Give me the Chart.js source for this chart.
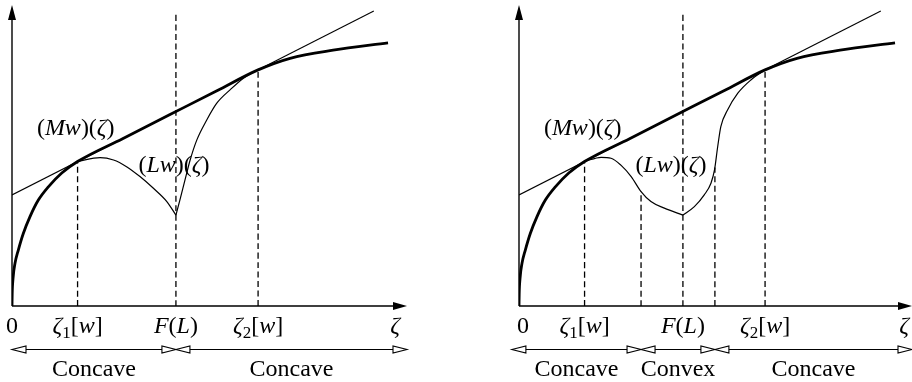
<!DOCTYPE html>
<html>
<head>
<meta charset="utf-8">
<script src="https://cdn.jsdelivr.net/npm/chart.js@4"></script>
<style>
  body { margin: 0; background: #fff; }
  #wrap { position: relative; width: 912px; height: 382px; overflow: hidden; }
  canvas { position: absolute; top: 0; }
</style>
</head>
<body>
<div id="wrap">
  <canvas id="left" width="456" height="382" style="left:0"></canvas>
  <canvas id="right" width="456" height="382" style="left:456px"></canvas>
</div>
<script>
// marked points on the ζ axis
const zeta1 = 16.6, fL = 41.5, zeta2 = 62.3;

// thick curve (Mw)(ζ), shared by both panels
const mwCurve = [[0, 0], [0.05, 4.0], [0.3, 9.7], [0.76, 14.2], [1.6, 18.6], [2.86, 24.1],
  [4.56, 29.7], [6.67, 35.2], [9.2, 39.6], [12.6, 44.2], [16.6, 48.0], [28, 55.6],
  [40, 63.6], [52, 71.6], [62.3, 78.45], [70.4, 82.3], [81.3, 85.0], [95.2, 87.4]];

// thin tangent line
const tangent = [[0, 36.9], [91.6, 98.0]];

// (Lw)(ζ), left panel: before and after the kink at F(L)
const lwLeftA = [[16.6, 48.0], [22.3, 49.3], [25.7, 48.5], [29.0, 46.3], [32.4, 43.0],
  [35.8, 39.1], [39.2, 34.7], [41.5, 30.2]];
const lwLeftB = [[41.5, 30.2], [42.5, 35.2], [43.8, 41.9], [45.1, 48.5], [46.8, 55.2],
  [49.3, 61.8], [51.8, 67.3], [55.2, 71.8], [58.6, 75.7], [62.3, 78.45]];

// (Lw)(ζ), right panel
const lwRightA = [[16.6, 48.0], [20.8, 49.4], [23.3, 49.1], [25.8, 46.8], [28.4, 43.0],
  [30.9, 38.0], [33.4, 34.7], [36.8, 32.5], [41.5, 30.2]];
const lwRightB = [[41.5, 30.2], [44.4, 33.0], [46.9, 36.9], [48.6, 40.8], [49.5, 45.2],
  [50.3, 52.9], [51.1, 59.6], [52.8, 65.1], [55.4, 70.7], [58.7, 75.1], [62.3, 78.45]];

// dashed verticals [ζ, height]
const dashLeft = [[zeta1, 48.0], [fL, 97.3], [zeta2, 78.45]];
const dashRight = [[zeta1, 48.0], [30.9, 38.0], [fL, 97.3], [49.6, 46.0], [zeta2, 78.45]];

// tick labels: parts are [text, style] with i = italic, r = roman, s = subscript
const tickLabels = [
  [['0', 'r']],
  [['ζ', 'i'], ['1', 's'], ['[', 'r'], ['w', 'i'], [']', 'r']],
  [['F', 'i'], ['(', 'r'], ['L', 'i'], [')', 'r']],
  [['ζ', 'i'], ['2', 's'], ['[', 'r'], ['w', 'i'], [']', 'r']],
  [['ζ', 'i']]
];
const tickPosLeft = [0, zeta1, fL, zeta2, 97];
const tickPosRight = [1, zeta1, fL, zeta2, 97.5];

// curve labels [x, y] of the label start
const mwLabel = [['(', 'r'], ['Mw', 'i'], [')(', 'r'], ['ζ', 'i'], [')', 'r']];
const lwLabel = [['(', 'r'], ['Lw', 'i'], [')(', 'r'], ['ζ', 'i'], [')', 'r']];
const mwLabelPos = [6.3, 56.8];
const lwLabelPosLeft = [32.0, 44.6];
const lwLabelPosRight = [29.5, 44.6];

// concavity regions [from, to, name]
const regionsLeft = [[0, fL, 'Concave'], [fL, 100, 'Concave']];
const regionsRight = [[-1.8, 30.9, 'Concave'], [30.9, 49.6, 'Convex'], [49.6, 99.5, 'Concave']];

const SERIF = '"Liberation Serif", "DejaVu Serif", serif';
const fonts = { i: 'italic 24px ' + SERIF, r: '24px ' + SERIF, s: '17px ' + SERIF };

function richWidth(ctx, parts) {
  let w = 0;
  parts.forEach(([t, s]) => { ctx.font = fonts[s]; w += ctx.measureText(t).width; });
  return w;
}
function drawRich(ctx, parts, x, y, align) {
  let cx = align === 'center' ? x - richWidth(ctx, parts) / 2 : x;
  ctx.textBaseline = 'alphabetic';
  ctx.textAlign = 'left';
  parts.forEach(([t, s]) => {
    ctx.font = fonts[s];
    ctx.fillText(t, cx, s === 's' ? y + 5 : y);
    cx += ctx.measureText(t).width;
  });
}
function head(ctx, tx, ty, dx, dy, len, half, filled) {
  const bx = tx - dx * len, by = ty - dy * len;
  ctx.beginPath();
  ctx.moveTo(tx, ty);
  ctx.lineTo(bx - dy * half, by + dx * half);
  ctx.lineTo(bx + dy * half, by - dx * half);
  ctx.closePath();
  if (filled) { ctx.fillStyle = '#000'; ctx.fill(); }
  else { ctx.fillStyle = '#fff'; ctx.fill(); ctx.stroke(); }
}

const sketch = {
  id: 'sketch',
  afterDatasetsDraw(chart, args, o) {
    const { ctx, scales: { x, y } } = chart;
    const x0 = x.getPixelForValue(0), y0 = y.getPixelForValue(0);
    const xEnd = x.getPixelForValue(x.max), yTop = y.getPixelForValue(100);
    ctx.save();
    ctx.strokeStyle = '#000';
    ctx.lineWidth = 1.4;
    // axes with solid arrowheads
    ctx.beginPath();
    ctx.moveTo(x0, y0); ctx.lineTo(xEnd - 8, y0);
    ctx.moveTo(x0, y0); ctx.lineTo(x0, yTop + 8);
    ctx.stroke();
    head(ctx, xEnd, y0, 1, 0, 14, 4, true);
    head(ctx, x0, yTop, 0, -1, 15, 4, true);
    // tick labels
    ctx.fillStyle = '#000';
    o.ticks.forEach((v, i) => drawRich(ctx, tickLabels[i], x.getPixelForValue(v), y0 + 27, 'center'));
    // curve labels
    o.labels.forEach(([parts, p]) => drawRich(ctx, parts, x.getPixelForValue(p[0]), y.getPixelForValue(p[1]), 'left'));
    // concavity regions
    const ay = y0 + 43.5;
    ctx.lineWidth = 1.1;
    o.regions.forEach(([a, b, name]) => {
      const pa = x.getPixelForValue(a), pb = x.getPixelForValue(b);
      ctx.beginPath(); ctx.moveTo(pa + 6, ay); ctx.lineTo(pb - 6, ay); ctx.stroke();
      head(ctx, pa, ay, -1, 0, 14, 3.5, false);
      head(ctx, pb, ay, 1, 0, 14, 3.5, false);
      ctx.fillStyle = '#000';
      ctx.font = fonts.r;
      ctx.textAlign = 'center';
      ctx.fillText(name, (pa + pb) / 2, y0 + 70);
    });
    ctx.restore();
  }
};

function pts(arr) { return arr.map(([x, y]) => ({ x, y })); }
function line(arr, width, dash) {
  return {
    data: pts(arr), borderColor: '#000', borderWidth: width, borderDash: dash || [],
    pointRadius: 0, fill: false, cubicInterpolationMode: 'monotone'
  };
}

function makeChart(id, lwA, lwB, dashes, xMax, padLeft, padRight, ticks, lwPos, regions) {
  const datasets = [
    line(tangent, 1.1),
    line(lwA, 1.2),
    line(lwB, 1.2),
    line(mwCurve, 2.8)
  ];
  dashes.forEach(([v, h]) => datasets.push(line([[v, 0], [v, h]], 1.3, [6, 3.5])));
  return new Chart(document.getElementById(id), {
    type: 'line',
    data: { datasets },
    options: {
      responsive: false,
      animation: false,
      layout: { padding: { left: padLeft, right: padRight, top: 5, bottom: 76 } },
      scales: {
        x: { type: 'linear', min: 0, max: xMax, display: false },
        y: { type: 'linear', min: 0, max: 100, display: false }
      },
      plugins: {
        legend: { display: false },
        tooltip: { enabled: false },
        sketch: { ticks, labels: [[mwLabel, mwLabelPos], [lwLabel, lwPos]], regions }
      }
    },
    plugins: [sketch]
  });
}

makeChart('left', lwLeftA, lwLeftB, dashLeft, 100, 12, 49, tickPosLeft, lwLabelPosLeft, regionsLeft);
makeChart('right', lwRightA, lwRightB, dashRight, 99.5, 63, 0, tickPosRight, lwLabelPosRight, regionsRight);
</script>
</body>
</html>
